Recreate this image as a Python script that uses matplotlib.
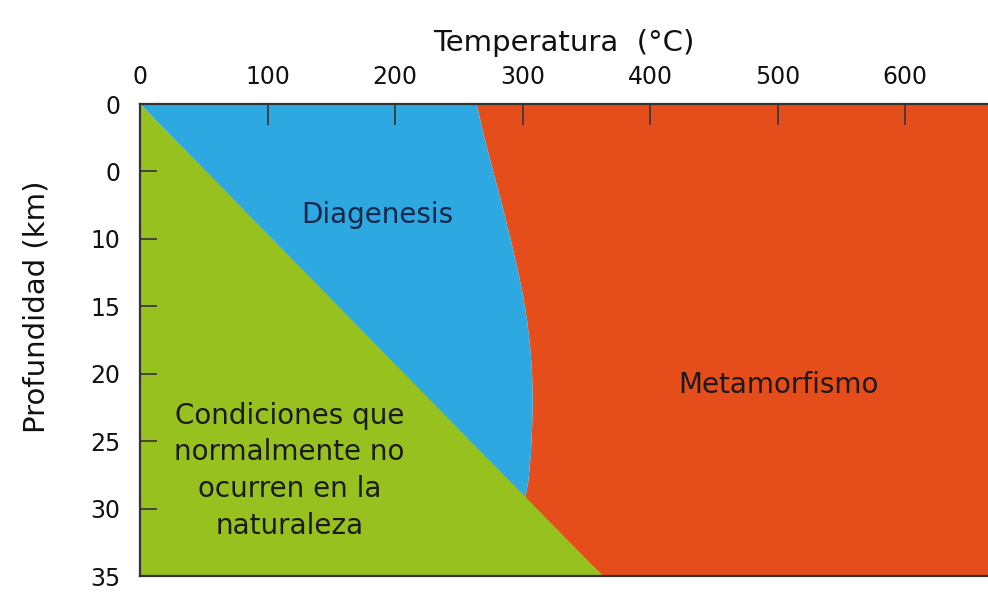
import matplotlib.pyplot as plt

temp_ticks = [0, 100, 200, 300, 400, 500, 600]
depth_ticks = [0, 5, 10, 15, 20, 25, 30, 35]
depth_labels = ["0", "0", "10", "15", "20", "25", "30", "35"]

# límite diagénesis / metamorfismo (profundidad km, temperatura °C)
bound_depth = [0, 2.5, 5, 7.5, 10, 12, 14, 16, 18, 20, 22, 24, 26, 28, 29.3]
bound_temp = [264, 270, 277, 284, 290.5, 295.5, 300, 303.5, 306, 307.5, 308, 307.5, 306.5, 304.5, 302]

# línea de condiciones no naturales: de (0, 0) a (363, 35)
line_temp = [0, 363]
line_depth = [0, 35]

x_max = 665
green = "#96c11f"
blue = "#2ea8e0"
red = "#e54d1a"

fig = plt.figure(figsize=(9.88, 5.96), dpi=100)
ax = fig.add_axes([140 / 988, 1 - 576 / 596, 1 - 140 / 988, (576 - 104) / 596])

# metamorfismo
red_x = [x_max, x_max, line_temp[1]] + bound_temp[::-1]
red_y = [0, 35, line_depth[1]] + bound_depth[::-1]
ax.fill(red_x, red_y, color=red, lw=0, zorder=1)

# diagénesis
blue_x = bound_temp + [line_temp[0]]
blue_y = bound_depth + [line_depth[0]]
ax.fill(blue_x, blue_y, color=blue, lw=0, zorder=1)

# condiciones no naturales
ax.fill([line_temp[0], line_temp[1], 0], [line_depth[0], line_depth[1], 35], color=green, lw=0, zorder=1)

ax.set_xlim(0, x_max)
ax.set_ylim(35, 0)

ax.xaxis.tick_top()
ax.xaxis.set_label_position("top")
ax.set_xticks(temp_ticks)
ax.set_yticks(depth_ticks)
ax.set_yticklabels(depth_labels)
ax.tick_params(direction="in", width=1.3, color="#3a3a3a", labelsize=17,
               labelcolor="#111111")
ax.tick_params(axis="x", pad=11, length=15)
ax.tick_params(axis="y", pad=14, length=12)

for side in ["top", "left", "bottom"]:
    ax.spines[side].set_color("#333333")
    ax.spines[side].set_linewidth(1.6)
    ax.spines[side].set_zorder(3)
ax.spines["right"].set_visible(False)

ax.set_xlabel("Temperatura  (°C)", fontsize=21, labelpad=10, color="#111111")
ax.set_ylabel("Profundidad (km)", fontsize=21, color="#111111")
ax.yaxis.set_label_coords(-0.106, 0.57)

ax.text(186, 8.2, "Diagenesis", fontsize=20, color="#14264a", ha="center", va="center", zorder=4)
ax.text(501, 20.8, "Metamorfismo", fontsize=20, color="#1a1a1a", ha="center", va="center", zorder=4)
ax.text(117, 27.2, "Condiciones que\nnormalmente no\nocurren en la\nnaturaleza", fontsize=20,
        color="#1a1a1a", ha="center", va="center", linespacing=1.4, zorder=4)

fig.savefig("out.png", dpi=100)
